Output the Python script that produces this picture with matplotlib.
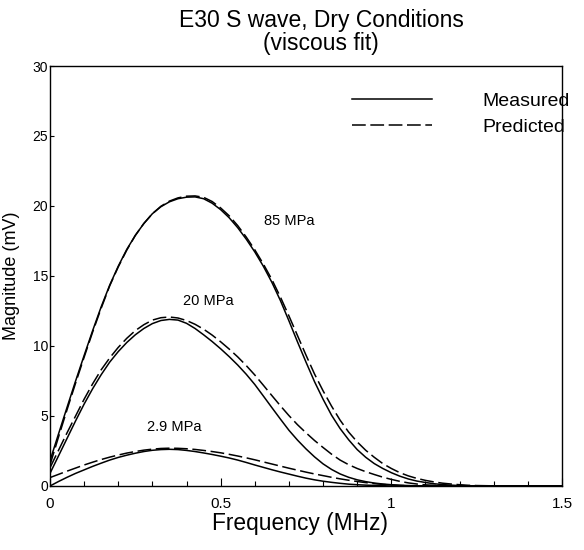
"""
E30 S wave spectra, dry conditions: measured vs predicted (viscous fit)
at three confining pressures. Writes out.png.
"""

import matplotlib
matplotlib.use("Agg")
import matplotlib.pyplot as plt
from matplotlib.ticker import MultipleLocator

# ── data ────────────────────────────────────────────────────────────────────
FREQ = [0.000, 0.025, 0.050, 0.075, 0.100, 0.125, 0.150, 0.175, 0.200, 0.225,
        0.250, 0.275, 0.300, 0.325, 0.350, 0.375, 0.400, 0.425, 0.450, 0.475,
        0.500, 0.525, 0.550, 0.575, 0.600, 0.625, 0.650, 0.675, 0.700, 0.725,
        0.750, 0.775, 0.800, 0.825, 0.850, 0.875, 0.900, 0.925, 0.950, 0.975,
        1.000, 1.025, 1.050, 1.075, 1.100, 1.125, 1.150, 1.175, 1.200, 1.225,
        1.250, 1.300, 1.400, 1.500]

MEAS_85 = [1.8, 3.72, 5.62, 7.5, 9.32, 11.1, 12.8, 14.35, 15.7, 16.9,
           17.9, 18.75, 19.45, 19.95, 20.3, 20.52, 20.63, 20.65, 20.52, 20.2,
           19.74, 19.16, 18.45, 17.63, 16.72, 15.7, 14.55, 13.25, 11.8, 10.3,
           8.85, 7.45, 6.2, 5.05, 4.1, 3.3, 2.6, 2.05, 1.6, 1.25,
           0.95, 0.7, 0.5, 0.35, 0.25, 0.16, 0.1, 0.06, 0.03, 0.01,
           0, 0, 0, 0]
PRED_85 = [1.5, 3.5, 5.45, 7.35, 9.2, 11.0, 12.7, 14.3, 15.65, 16.85,
           17.9, 18.75, 19.45, 19.98, 20.35, 20.58, 20.7, 20.72, 20.62, 20.32,
           19.86, 19.3, 18.6, 17.78, 16.87, 15.86, 14.75, 13.5, 12.15, 10.75,
           9.35, 8.0, 6.8, 5.7, 4.7, 3.85, 3.15, 2.55, 2.05, 1.6,
           1.25, 0.95, 0.72, 0.54, 0.4, 0.29, 0.2, 0.14, 0.09, 0.05,
           0.03, 0.01, 0, 0]

MEAS_20 = [0.9, 2.15, 3.4, 4.65, 5.85, 6.95, 7.95, 8.85, 9.6, 10.25,
           10.8, 11.25, 11.6, 11.82, 11.9, 11.85, 11.62, 11.25, 10.8, 10.32,
           9.8, 9.24, 8.64, 7.98, 7.25, 6.43, 5.6, 4.78, 3.98, 3.28,
           2.65, 2.08, 1.58, 1.18, 0.86, 0.62, 0.44, 0.31, 0.21, 0.14,
           0.09, 0.05, 0.03, 0.01, 0, 0, 0, 0, 0, 0,
           0, 0, 0, 0]
PRED_20 = [1.3, 2.55, 3.8, 5.0, 6.2, 7.3, 8.3, 9.15, 9.9, 10.55,
           11.1, 11.52, 11.85, 12.02, 12.07, 12.0, 11.82, 11.55, 11.2, 10.78,
           10.3, 9.78, 9.22, 8.6, 7.93, 7.2, 6.46, 5.73, 5.03, 4.38,
           3.8, 3.25, 2.75, 2.27, 1.85, 1.52, 1.25, 1.02, 0.82, 0.63,
           0.47, 0.33, 0.22, 0.14, 0.08, 0.05, 0.03, 0.01, 0, 0,
           0, 0, 0, 0]

MEAS_29 = [0, 0.32, 0.62, 0.9, 1.15, 1.4, 1.63, 1.85, 2.04, 2.2,
           2.34, 2.46, 2.55, 2.6, 2.62, 2.6, 2.54, 2.46, 2.36, 2.25,
           2.13, 2.0, 1.85, 1.68, 1.5, 1.33, 1.16, 1.0, 0.85, 0.7,
           0.56, 0.44, 0.34, 0.26, 0.19, 0.13, 0.09, 0.06, 0.04, 0.02,
           0, 0, 0, 0, 0, 0, 0, 0, 0, 0,
           0, 0, 0, 0]
PRED_29 = [0.6, 0.83, 1.06, 1.28, 1.5, 1.7, 1.89, 2.06, 2.21, 2.35,
           2.46, 2.56, 2.63, 2.68, 2.7, 2.69, 2.66, 2.61, 2.54, 2.46,
           2.37, 2.26, 2.14, 2.01, 1.87, 1.72, 1.57, 1.42, 1.27, 1.13,
           0.99, 0.86, 0.74, 0.62, 0.51, 0.41, 0.32, 0.24, 0.17, 0.11,
           0.07, 0.04, 0.02, 0.01, 0, 0, 0, 0, 0, 0,
           0, 0, 0, 0]

PRESSURE_LABELS = ["85 MPa", "20 MPa", "2.9 MPa"]
LABEL_POS = [(0.70, 18.9), (0.465, 13.2), (0.365, 4.2)]

X_TICKS = [0, 0.5, 1, 1.5]
X_TICK_LABELS = ["0", "0.5", "1", "1.5"]
Y_TICKS = [0, 5, 10, 15, 20, 25, 30]
# ────────────────────────────────────────────────────────────────────────────

plt.rcParams["font.family"] = ["Liberation Sans", "DejaVu Sans"]

LW = 1.1
DASH = (0, (9, 3))

fig = plt.figure(figsize=(5.84, 5.5), dpi=100)
ax = fig.add_axes([0.0856, 0.1164, 0.8767, 0.7636])

for meas, pred in [(MEAS_85, PRED_85), (MEAS_20, PRED_20), (MEAS_29, PRED_29)]:
    ax.plot(FREQ, meas, color="black", lw=LW)
    ax.plot(FREQ, pred, color="black", lw=LW, linestyle=DASH)

for text, (fx, fy) in zip(PRESSURE_LABELS, LABEL_POS):
    ax.text(fx, fy, text, ha="center", va="center", fontsize=10.5)

# legend: handles only, no frame
h_meas, = ax.plot([], [], color="black", lw=LW)
h_pred, = ax.plot([], [], color="black", lw=LW, linestyle=DASH)
ax.legend([h_meas, h_pred], ["Measured", "Predicted"], loc="upper left",
          bbox_to_anchor=(0.59, 0.938), borderaxespad=0, borderpad=0,
          frameon=False, fontsize=14, handlelength=4.1, handletextpad=2.6,
          labelspacing=0.45)

ax.set_xlim(0, 1.5)
ax.set_ylim(0, 30)
ax.set_xticks(X_TICKS)
ax.set_xticklabels(X_TICK_LABELS)
ax.set_yticks(Y_TICKS)
ax.xaxis.set_minor_locator(MultipleLocator(0.1))
ax.tick_params(axis="x", which="major", direction="in", length=6, width=0.8,
               labelsize=11, pad=8)
ax.tick_params(axis="x", which="minor", direction="in", length=3.5, width=0.8)
ax.tick_params(axis="y", which="major", direction="in", length=3, width=0.8,
               labelsize=10, pad=1.5)
for s in ax.spines.values():
    s.set_linewidth(1.0)

ax.set_xlabel("Frequency (MHz)", fontsize=16.4, labelpad=1)
ax.xaxis.set_label_coords(0.488, -0.062)
ax.set_ylabel("Magnitude (mV)", fontsize=13)
ax.yaxis.set_label_coords(-0.058, 0.5)

fig.text(0.55, 1 - 9 / 550, "E30 S wave, Dry Conditions\n(viscous fit)",
         ha="center", va="top", fontsize=16.5, linespacing=0.98)

fig.savefig("out.png", dpi=100)
